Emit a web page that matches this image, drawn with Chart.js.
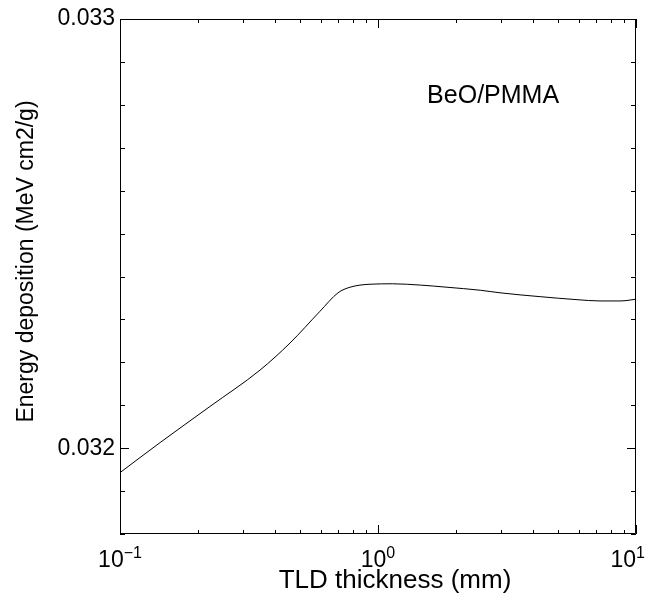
<!DOCTYPE html>
<html>
<head>
<meta charset="utf-8">
<script src="https://cdn.jsdelivr.net/npm/chart.js@4.4.1/dist/chart.umd.min.js"></script>
<style>
  html, body { margin: 0; padding: 0; background: #fff; }
  #wrap { width: 656px; height: 604px; }
</style>
</head>
<body>
<div id="wrap"><canvas id="chart"></canvas></div>
<script>
// TLD thickness (mm)
const thickness = [0.1, 0.143, 0.223, 0.349, 0.456, 0.596, 0.7, 0.779, 0.931,
  1.14, 1.46, 1.85, 2.49, 2.97, 4.25, 5.91, 7.25, 8.67, 10];
// energy deposition (MeV cm2/g)
const deposition = [0.031943, 0.032013, 0.032097, 0.032182, 0.032245, 0.032319,
  0.032362, 0.032375, 0.032382, 0.032383, 0.03238, 0.032375, 0.032368, 0.032362,
  0.032353, 0.032346, 0.032343, 0.032343, 0.032347];

// axis ticks
const xTicks = [0.1, 0.2, 0.3, 0.4, 0.5, 0.6, 0.7, 0.8, 0.9,
  1, 2, 3, 4, 5, 6, 7, 8, 9, 10];
const xMajorTicks = [0.1, 1, 10];
const xTickExponents = ["\u22121", "0", "1"];
const yTicks = [0.0318, 0.0319, 0.032, 0.0321, 0.0322, 0.0323, 0.0324,
  0.0325, 0.0326, 0.0327, 0.0328, 0.0329, 0.033];
const yMajorTicks = [0.032, 0.033];
const yTickLabels = ["0.032", "0.033"];

const xTitle = "TLD thickness (mm)";
const yTitle = "Energy deposition (MeV cm2/g)";
const note = { text: "BeO/PMMA", x: 1.55, y: 0.03282 };

const family = '"Liberation Sans", Arial, Helvetica, sans-serif';

const isMajor = (list, v) => list.some((m) => Math.abs(m - v) < m * 1e-6);

// box, inward ticks, power-of-ten labels, axis titles and the note
const frame = {
  id: "frame",
  afterDatasetsDraw(chart) {
    const { ctx, chartArea: a, scales } = chart;
    const { x, y } = scales;
    ctx.save();
    ctx.strokeStyle = "#000";
    ctx.lineWidth = 1;
    ctx.beginPath();
    ctx.rect(a.left + 0.5, a.top + 0.5, a.right - a.left - 1, a.bottom - a.top - 1);

    xTicks.forEach((v) => {
      const px = Math.round(x.getPixelForValue(v)) + 0.5;
      const len = isMajor(xMajorTicks, v) ? 9 : 4;
      ctx.moveTo(px, a.bottom);
      ctx.lineTo(px, a.bottom - len);
      ctx.moveTo(px, a.top);
      ctx.lineTo(px, a.top + len);
    });
    yTicks.forEach((v) => {
      const py = Math.round(y.getPixelForValue(v)) + 0.5;
      const len = isMajor(yMajorTicks, v) ? 9 : 5;
      ctx.moveTo(a.left, py);
      ctx.lineTo(a.left + len, py);
      ctx.moveTo(a.right, py);
      ctx.lineTo(a.right - len, py);
    });
    ctx.stroke();

    // 10^n labels
    ctx.fillStyle = "#000";
    ctx.textBaseline = "alphabetic";
    ctx.textAlign = "left";
    xMajorTicks.forEach((v, i) => {
      const px = x.getPixelForValue(v);
      ctx.font = "23px " + family;
      const wBase = ctx.measureText("10").width;
      ctx.font = "16px " + family;
      const wExp = ctx.measureText(xTickExponents[i]).width;
      let left = px - (wBase + wExp) / 2;
      if (left + wBase + wExp > chart.width - 11) left = chart.width - 11 - wBase - wExp;
      ctx.font = "23px " + family;
      ctx.fillText("10", left, a.bottom + 33);
      ctx.font = "16px " + family;
      ctx.fillText(xTickExponents[i], left + wBase, a.bottom + 24);
    });

    // axis titles
    ctx.font = "26px " + family;
    ctx.textAlign = "center";
    ctx.fillText(xTitle, (a.left + a.right) / 2 + 17, a.bottom + 54);

    ctx.save();
    ctx.translate(a.left - 87, (a.top + a.bottom) / 2 - 15);
    ctx.rotate(-Math.PI / 2);
    ctx.font = "23px " + family;
    ctx.fillText(yTitle, 0, 0);
    ctx.restore();

    ctx.textAlign = "left";
    ctx.font = "25px " + family;
    ctx.textBaseline = "middle";
    ctx.fillText(note.text, x.getPixelForValue(note.x), y.getPixelForValue(note.y));
    ctx.restore();
  },
};

new Chart(document.getElementById("chart"), {
  type: "scatter",
  data: {
    datasets: [
      {
        label: "BeO/PMMA",
        data: thickness.map((t, i) => ({ x: t, y: deposition[i] })),
        showLine: true,
        borderColor: "#000",
        borderWidth: 1,
        pointRadius: 0,
        cubicInterpolationMode: "monotone",
      },
    ],
  },
  options: {
    responsive: true,
    maintainAspectRatio: false,
    animation: false,
    layout: {
      padding: { left: 0, right: 20, top: 19, bottom: 0 },
    },
    scales: {
      x: {
        type: "logarithmic",
        min: 0.1,
        max: 10,
        afterBuildTicks: (axis) => {
          axis.ticks = xTicks.map((v) => ({ value: v }));
        },
        afterFit: (axis) => {
          axis.height = 70;
        },
        ticks: { display: false },
        grid: { display: false },
        border: { display: false },
      },
      y: {
        min: 0.0318,
        max: 0.033,
        afterBuildTicks: (axis) => {
          axis.ticks = yTicks.map((v) => ({ value: v }));
        },
        afterFit: (axis) => {
          axis.width = 120;
        },
        ticks: {
          color: "#000",
          padding: 5,
          font: { size: 23, family },
          callback: (value) => {
            const i = yMajorTicks.findIndex((m) => Math.abs(m - value) < 1e-9);
            return i >= 0 ? yTickLabels[i] : "";
          },
        },
        grid: { display: false, drawTicks: false },
        border: { display: false },
      },
    },
    plugins: {
      legend: { display: false },
      tooltip: { enabled: false },
    },
  },
  plugins: [frame],
});
</script>
</body>
</html>
